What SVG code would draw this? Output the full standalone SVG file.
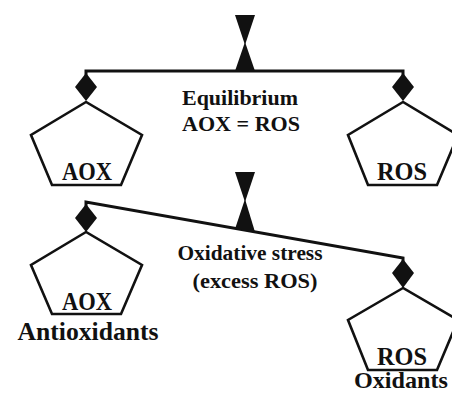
<svg xmlns="http://www.w3.org/2000/svg" width="452" height="394" viewBox="0 0 452 394">
<style>
.pan{fill:#fff;stroke:#111;stroke-width:2.6;stroke-linejoin:miter}
.bar{fill:none;stroke:#111;stroke-width:3;stroke-linejoin:miter}
.solid{fill:#111;stroke:none}
.t{font-family:"Liberation Serif","Times New Roman",serif;font-weight:bold;fill:#111;text-anchor:middle}
.big{font-size:25px}
.mid{font-size:21px}
</style>
<rect width="452" height="394" fill="#fff"/>
<g id="connectors">
  <polyline class="bar" points="86,76 86,71 403,71 403,76"/>
  <polyline class="bar" points="86,207 86,202 403,258 403,262"/>
</g>
<g id="fulcrum-equilibrium">
  <polygon class="solid" points="235,15 255,15 245,45"/>
  <polygon class="solid" points="245,42 235,71 255,71"/>
</g>
<g id="fulcrum-stress">
  <polygon class="solid" points="235,172 255,172 245,202"/>
  <polygon class="solid" points="245,199 235,229 255,232"/>
</g>
<g id="aox-equilibrium">
  <polygon class="solid" points="86,73 97,87 86,101 75,87"/>
  <polygon class="pan" points="86,102 31,135 52,185 121,185 142,135"/>
  <text class="t big" x="87" y="180" textLength="50" lengthAdjust="spacingAndGlyphs">AOX</text>
</g>
<g id="ros-equilibrium">
  <polygon class="solid" points="403,73 414,87 403,101 392,87"/>
  <polygon class="pan" points="403,102 348,135 368,185 437,185 458,135"/>
  <text class="t big" x="402" y="180" textLength="50" lengthAdjust="spacingAndGlyphs">ROS</text>
</g>
<g id="label-equilibrium">
  <text class="t mid" x="240" y="105" textLength="116" lengthAdjust="spacingAndGlyphs">Equilibrium</text>
  <text class="t mid" x="241" y="131" textLength="118" lengthAdjust="spacingAndGlyphs">AOX = ROS</text>
</g>
<g id="aox-stress">
  <polygon class="solid" points="86,204 97,218 86,232 75,218"/>
  <polygon class="pan" points="86,232 31,265 52,314 121,314 142,265"/>
  <text class="t big" x="87" y="310" textLength="50" lengthAdjust="spacingAndGlyphs">AOX</text>
  <text class="t big" x="88" y="340" textLength="141" lengthAdjust="spacingAndGlyphs">Antioxidants</text>
</g>
<g id="ros-stress">
  <polygon class="solid" points="403,259 414,273 403,288 392,273"/>
  <polygon class="pan" points="403,288 348,320 368,370 437,370 458,320"/>
  <text class="t big" x="402" y="365" textLength="50" lengthAdjust="spacingAndGlyphs">ROS</text>
  <text class="t" style="font-size:23px" x="401" y="388" textLength="94" lengthAdjust="spacingAndGlyphs">Oxidants</text>
</g>
<g id="label-stress">
  <text class="t mid" x="250" y="260" textLength="145" lengthAdjust="spacingAndGlyphs">Oxidative stress</text>
  <text class="t mid" x="255" y="288" textLength="125" lengthAdjust="spacingAndGlyphs">(excess ROS)</text>
</g>
</svg>
